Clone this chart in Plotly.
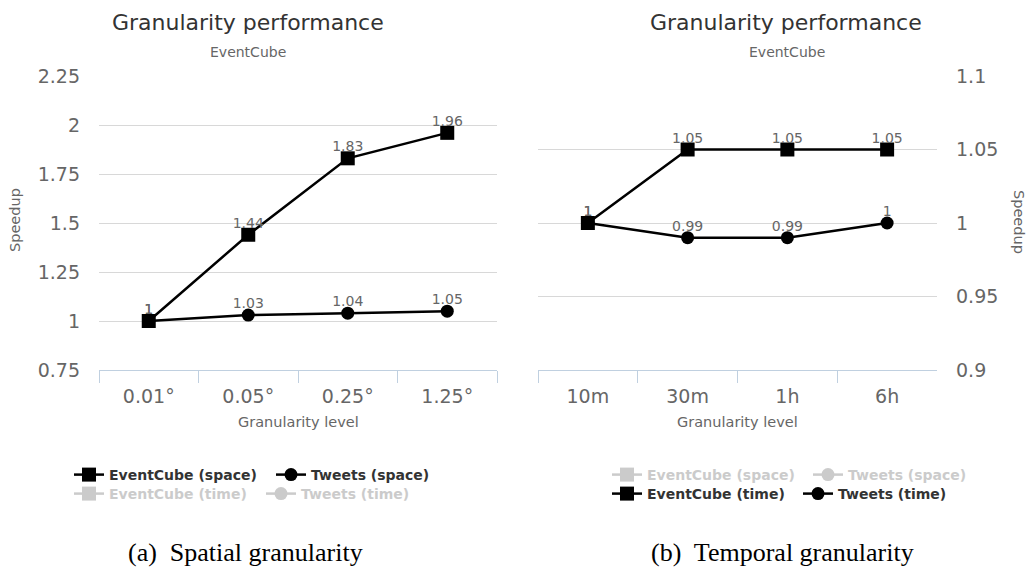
import plotly.graph_objects as go

W, H = 1032, 567

# Granularity levels (x categories)
space_levels = ["0.01°", "0.05°", "0.25°", "1.25°"]
time_levels = ["10m", "30m", "1h", "6h"]

# Speedup per granularity level
eventcube_space = [1, 1.44, 1.83, 1.96]
tweets_space = [1, 1.03, 1.04, 1.05]
eventcube_time = [1, 1.05, 1.05, 1.05]
tweets_time = [1, 0.99, 0.99, 1]

# y tick values
space_ticks = [0.75, 1, 1.25, 1.5, 1.75, 2, 2.25]
time_ticks = [0.9, 0.95, 1, 1.05, 1.1]

FONT = "DejaVu Sans"
SERIF = "Liberation Serif"
TEXT_DARK = "#333333"
TEXT_MID = "#666666"
GRID = "#d8d8d8"
AXIS = "#c0d0e0"


def fx(p):
    return p / W


def fy(p):
    return 1 - p / H


def series(name, x, y, symbol, size, xa, ya, legend, shown):
    color = "#000000" if shown else "#999999"
    return go.Scatter(
        x=x, y=y, name=name, mode="lines+markers",
        line=dict(color=color, width=2.5),
        marker=dict(symbol=symbol, size=size, color=color),
        xaxis=xa, yaxis=ya, legend=legend,
        visible=True if shown else "legendonly",
        cliponaxis=False,
    )


def labels(x, y, xa, ya):
    # value labels above each point; the transparent marker sets the text offset
    return go.Scatter(
        x=x, y=y, mode="markers+text", text=[f"{v:g}" for v in y],
        textposition="top center",
        marker=dict(size=4, opacity=0),
        textfont=dict(family=FONT, size=14, color=TEXT_MID),
        xaxis=xa, yaxis=ya, showlegend=False, hoverinfo="skip",
        cliponaxis=False,
    )


fig = go.Figure()

# Spatial panel
fig.add_trace(series("EventCube (space)", space_levels, eventcube_space, "square", 14, "x", "y", "legend", True))
fig.add_trace(series("Tweets (space)", space_levels, tweets_space, "circle", 13, "x", "y", "legend", True))
fig.add_trace(series("EventCube (time)", space_levels, eventcube_time, "square", 14, "x", "y", "legend2", False))
fig.add_trace(series("Tweets (time)", space_levels, tweets_time, "circle", 13, "x", "y", "legend2", False))
fig.add_trace(labels(space_levels, eventcube_space, "x", "y"))
fig.add_trace(labels(space_levels, tweets_space, "x", "y"))

# Temporal panel
fig.add_trace(series("EventCube (space)", time_levels, eventcube_space, "square", 14, "x2", "y2", "legend3", False))
fig.add_trace(series("Tweets (space)", time_levels, tweets_space, "circle", 13, "x2", "y2", "legend3", False))
fig.add_trace(series("EventCube (time)", time_levels, eventcube_time, "square", 14, "x2", "y2", "legend4", True))
fig.add_trace(series("Tweets (time)", time_levels, tweets_time, "circle", 13, "x2", "y2", "legend4", True))
fig.add_trace(labels(time_levels, eventcube_time, "x2", "y2"))
fig.add_trace(labels(time_levels, tweets_time, "x2", "y2"))

xcommon = dict(
    type="category", categoryorder="array", range=[-0.5, 3.5],
    tickson="boundaries", ticks="outside", ticklen=12, tickcolor=AXIS,
    showline=True, linecolor=AXIS, linewidth=1, showgrid=False,
    ticklabelstandoff=9,
    tickfont=dict(family=FONT, size=19, color=TEXT_MID),
    fixedrange=True,
)
ycommon = dict(
    showgrid=True, gridcolor=GRID, gridwidth=1, zeroline=False,
    showline=False, ticks="", ticklabelstandoff=18,
    tickfont=dict(family=FONT, size=19, color=TEXT_MID),
    fixedrange=True,
)

fig.update_layout(
    width=W, height=H,
    margin=dict(l=0, r=0, t=0, b=0, autoexpand=False),
    paper_bgcolor="white", plot_bgcolor="white",
    xaxis=dict(xcommon, domain=[fx(99), fx(497)], categoryarray=space_levels, anchor="y"),
    yaxis=dict(ycommon, domain=[fy(370), fy(76)], range=[0.75, 2.25], tickvals=space_ticks, anchor="x"),
    xaxis2=dict(xcommon, domain=[fx(538), fx(937)], categoryarray=time_levels, anchor="y2"),
    yaxis2=dict(ycommon, domain=[fy(370), fy(76)], range=[0.9, 1.1], tickvals=time_ticks,
                anchor="x2", side="right"),
    showlegend=True,
)

legend_base = dict(
    orientation="h", xanchor="left", yanchor="middle",
    bgcolor="rgba(0,0,0,0)", borderwidth=0, entrywidthmode="pixels",
)
fig.update_layout(
    legend=dict(legend_base, x=fx(69), y=fy(475), entrywidth=157,
                font=dict(family=FONT, size=14, color=TEXT_DARK, weight="bold")),
    legend2=dict(legend_base, x=fx(69), y=fy(494), entrywidth=147,
                 font=dict(family=FONT, size=14, color="#999999", weight="bold")),
    legend3=dict(legend_base, x=fx(607), y=fy(475), entrywidth=156,
                 font=dict(family=FONT, size=14, color="#999999", weight="bold")),
    legend4=dict(legend_base, x=fx(607), y=fy(494), entrywidth=146,
                 font=dict(family=FONT, size=14, color=TEXT_DARK, weight="bold")),
)

annotations = [
    # chart titles and subtitles
    dict(text="Granularity performance", x=fx(248), y=fy(22), font=dict(family=FONT, size=22, color=TEXT_DARK)),
    dict(text="EventCube", x=fx(248), y=fy(52), font=dict(family=FONT, size=14, color=TEXT_MID)),
    dict(text="Granularity performance", x=fx(786), y=fy(22), font=dict(family=FONT, size=22, color=TEXT_DARK)),
    dict(text="EventCube", x=fx(787), y=fy(52), font=dict(family=FONT, size=14, color=TEXT_MID)),
    # axis titles
    dict(text="Granularity level", x=fx(298), y=fy(422), font=dict(family=FONT, size=14.5, color=TEXT_MID)),
    dict(text="Granularity level", x=fx(737), y=fy(422), font=dict(family=FONT, size=14.5, color=TEXT_MID)),
    dict(text="Speedup", x=fx(15), y=fy(220), textangle=-90, font=dict(family=FONT, size=14.5, color=TEXT_MID)),
    dict(text="Speedup", x=fx(1019), y=fy(222), textangle=90, font=dict(family=FONT, size=14.5, color=TEXT_MID)),
    # captions
    dict(text="(a)  Spatial granularity", x=fx(245), y=fy(552), font=dict(family=SERIF, size=26, color="#000000")),
    dict(text="(b)  Temporal granularity", x=fx(782), y=fy(552), font=dict(family=SERIF, size=26, color="#000000")),
]
for a in annotations:
    a.update(xref="paper", yref="paper", showarrow=False, xanchor="center", yanchor="middle")
fig.update_layout(annotations=annotations)

fig.write_html("out.html", config={"displayModeBar": False})
